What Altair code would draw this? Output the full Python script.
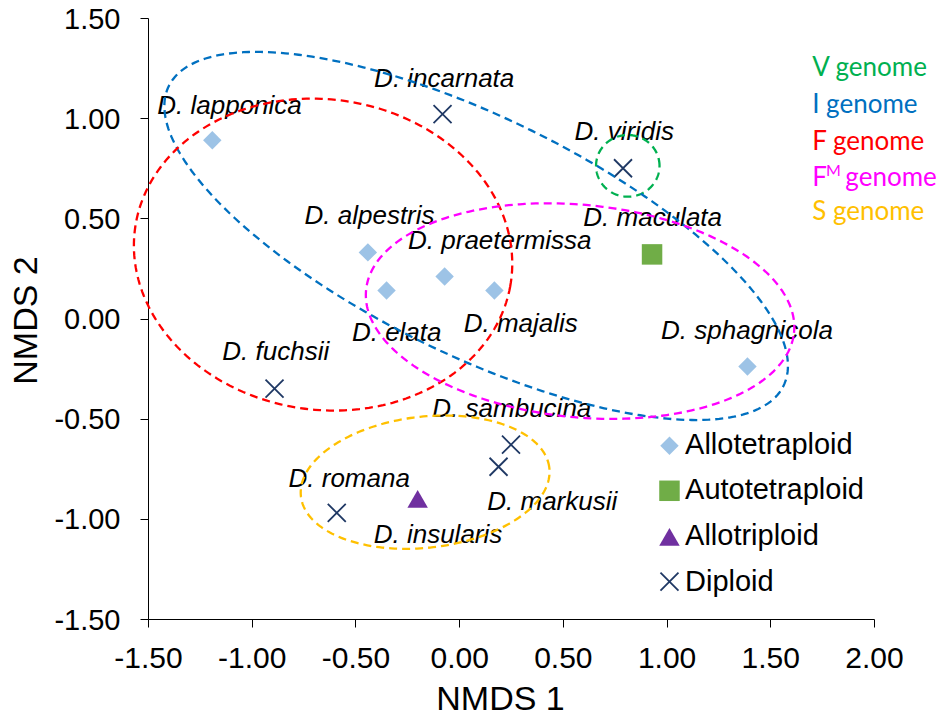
import altair as alt
import numpy as np
import pandas as pd

# ---------------- data ----------------
species = ["D. lapponica", "D. incarnata", "D. viridis", "D. maculata", "D. alpestris",
           "D. praetermissa", "D. elata", "D. majalis", "D. sphagnicola", "D. fuchsii",
           "D. sambucina", "D. markusii", "D. romana", "D. insularis"]
ploidy = ["Allotetraploid", "Diploid", "Diploid", "Autotetraploid", "Allotetraploid",
          "Allotetraploid", "Allotetraploid", "Allotetraploid", "Allotetraploid", "Diploid",
          "Diploid", "Diploid", "Diploid", "Allotriploid"]
nmds1 = [-1.19, -0.08, 0.79, 0.93, -0.44, -0.07, -0.35, 0.17, 1.39, -0.89, 0.25, 0.19, -0.59, -0.20]
nmds2 = [0.89, 1.02, 0.75, 0.32, 0.33, 0.21, 0.14, 0.14, -0.24, -0.35, -0.63, -0.74, -0.97, -0.90]
# label anchor (text centre, baseline) in data units
label_x = [-1.107, -0.072, 0.796, 0.933, -0.432, 0.196, -0.301, 0.297, 1.388, -0.884,
           0.254, 0.449, -0.530, -0.102]
label_y = [1.019, 1.157, 0.891, 0.462, 0.470, 0.347, -0.111, -0.066, -0.104, -0.207,
           -0.492, -0.956, -0.843, -1.120]

ploidy_types = ["Allotetraploid", "Autotetraploid", "Allotriploid", "Diploid"]
ploidy_colors = ["#9DC3E6", "#70AD47", "#7030A0", "#1F3864"]
ploidy_shapes = ["diamond", "square", "triangle-up", "M-1,-1L1,1M-1,1L1,-1"]
ploidy_sizes = [340, 420, 420, 324]
legend_sym_x = [1.014, 1.014, 1.014, 1.014]
legend_sym_y = [-0.635, -0.860, -1.090, -1.314]
legend_txt_x = [1.089, 1.089, 1.089, 1.089]
legend_txt_y = [-0.678, -0.901, -1.131, -1.359]

# genome ellipses (centre, semi-axes, rotation in degrees)
ell_name = ["V", "I", "F", "FM", "S"]
ell_color = ["#00B050", "#0070C0", "#FF0000", "#FF00FF", "#FFC000"]
ell_cx = [0.813, 0.082, -0.656, 0.583, -0.164]
ell_cy = [0.762, 0.412, 0.319, 0.037, -0.817]
ell_a = [0.153, 1.66, 0.916, 1.037, 0.603]
ell_b = [0.154, 0.59, 0.774, 0.530, 0.327]
ell_rot = [0, -27, -10, -6, 7]

genome_text = ["V genome", "I genome", "F genome", "F", "S genome"]
genome_x = [1.702, 1.702, 1.702, 1.702, 1.702]
genome_y = [1.210, 1.024, 0.841, 0.661, 0.491]
sup_text = ["M", "genome"]
sup_x = [1.769, 1.862]
sup_y = [0.713, 0.661]
sup_size = [16, 26]

# ---------------- tables ----------------
tcol = dict(zip(ploidy_types, ploidy_colors))
tshp = dict(zip(ploidy_types, ploidy_shapes))
tsz = dict(zip(ploidy_types, ploidy_sizes))

pts = pd.DataFrame({"x": nmds1, "y": nmds2, "type": ploidy})
leg = pd.DataFrame({"x": legend_sym_x, "y": legend_sym_y, "type": ploidy_types})
allpts = pd.concat([pts, leg], ignore_index=True)
allpts["color"] = allpts["type"].map(tcol)
allpts["shape"] = allpts["type"].map(tshp)
allpts["size"] = allpts["type"].map(tsz)

labels = pd.DataFrame({"x": label_x, "y": label_y, "text": species})
legtext = pd.DataFrame({"x": legend_txt_x, "y": legend_txt_y, "text": ploidy_types})
gen = pd.DataFrame({"x": genome_x, "y": genome_y, "text": genome_text, "color": ell_color})
sup = pd.DataFrame({"x": sup_x, "y": sup_y, "text": sup_text, "size": sup_size,
                    "color": [ell_color[3], ell_color[3]]})

rows = []
t = np.linspace(0, 2 * np.pi, 241)
for n, c, cx, cy, a, b, r in zip(ell_name, ell_color, ell_cx, ell_cy, ell_a, ell_b, ell_rot):
    th = np.deg2rad(r)
    ex = cx + a * np.cos(t) * np.cos(th) - b * np.sin(t) * np.sin(th)
    ey = cy + a * np.cos(t) * np.sin(th) + b * np.sin(t) * np.cos(th)
    for i, (xx, yy) in enumerate(zip(ex, ey)):
        rows.append({"name": n, "color": c, "i": i, "x": xx, "y": yy})
ell = pd.DataFrame(rows)

# ---------------- chart ----------------
xscale = alt.Scale(domain=[-1.5, 2.0], nice=False, zero=False)
yscale = alt.Scale(domain=[-1.5, 1.5], nice=False, zero=False)
lab = "replace(format(datum.value, '.2f'), '\u2212', '-')"

X = alt.X("x:Q", scale=xscale,
          axis=alt.Axis(title="NMDS 1", values=[-1.5, -1.0, -0.5, 0.0, 0.5, 1.0, 1.5, 2.0],
                        labelExpr=lab, labelPadding=16, labelFontSize=30,
                        titleX=352, titleY=90,
                        titleBaseline="alphabetic", titleAnchor="start", titleAlign="center"))
Y = alt.Y("y:Q", scale=yscale,
          axis=alt.Axis(title="NMDS 2", values=[-1.5, -1.0, -0.5, 0.0, 0.5, 1.0, 1.5],
                        labelExpr=lab, labelPadding=20, labelFontSize=29, labelOffset=1,
                        titleX=-112, titleY=302,
                        titleAngle=270, titleBaseline="alphabetic", titleAlign="center",
                        titleAnchor="start"))

filled = alt.Chart(allpts).transform_filter("datum.type != 'Diploid'").mark_point(
    filled=True, opacity=1, strokeWidth=0).encode(
    x=X, y=Y,
    shape=alt.Shape("shape:N", scale=None),
    color=alt.Color("color:N", scale=None),
    size=alt.Size("size:Q", scale=None))

crosses = alt.Chart(allpts).transform_filter("datum.type == 'Diploid'").mark_point(
    filled=False, opacity=1, strokeWidth=1.8, shape="M-1,-1L1,1M-1,1L1,-1").encode(
    x="x:Q", y="y:Q",
    color=alt.Color("color:N", scale=None),
    size=alt.Size("size:Q", scale=None))

sp_text = alt.Chart(labels).mark_text(font="Liberation Sans", fontStyle="italic", fontSize=26,
                                      align="center", baseline="alphabetic", color="black").encode(
    x="x:Q", y="y:Q", text="text:N")

lg_text = alt.Chart(legtext).mark_text(font="Liberation Sans", fontSize=29, align="left",
                                       baseline="alphabetic", color="black").encode(
    x="x:Q", y="y:Q", text="text:N")

gen_text = alt.Chart(gen).mark_text(font="Lato", fontSize=26, align="left",
                                    baseline="alphabetic").encode(
    x="x:Q", y="y:Q", text="text:N", color=alt.Color("color:N", scale=None))

sup_txt = alt.Chart(sup).mark_text(font="Lato", align="left", baseline="alphabetic").encode(
    x="x:Q", y="y:Q", text="text:N", color=alt.Color("color:N", scale=None),
    size=alt.Size("size:Q", scale=None))

ellipses = alt.Chart(ell).mark_line(strokeDash=[8, 5], strokeWidth=2.3).encode(
    x="x:Q", y="y:Q", order="i:Q", detail="name:N",
    color=alt.Color("color:N", scale=None))

chart = alt.layer(filled, crosses, sp_text, lg_text, gen_text, sup_txt, ellipses).properties(
    width=726, height=601,
    autosize=alt.AutoSizeParams(type="none"),
    padding={"left": 140, "top": 10, "right": 65, "bottom": 100},
).configure_view(stroke=None).configure_axis(
    grid=False, domainColor="black", tickColor="black", domainWidth=1, tickWidth=1,
    tickSize=8, labelFont="Liberation Sans", labelColor="black",
    titleFont="Liberation Sans", titleFontSize=34, titleFontWeight="normal", titleColor="black",
    labelFlush=False, labelOverlap=False)

chart.save("out.html", embed_options={"renderer": "svg", "actions": False})
